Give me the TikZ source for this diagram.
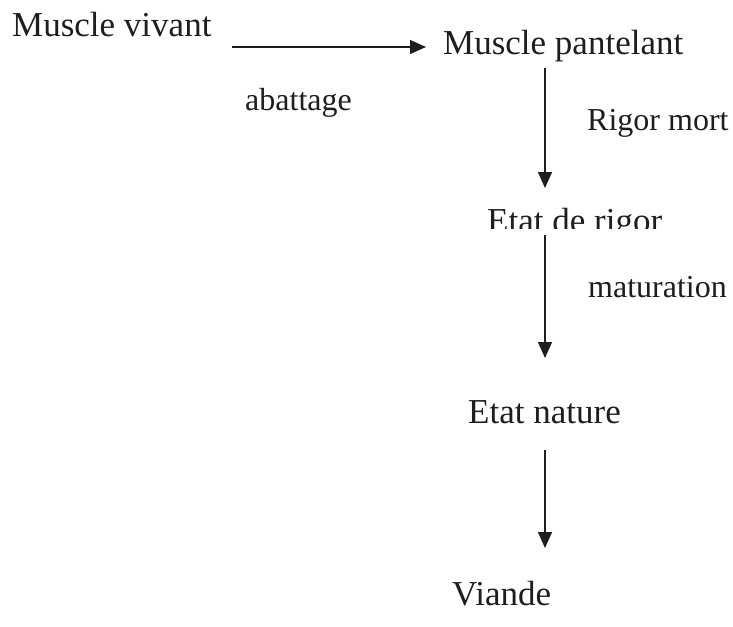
\documentclass[tikz,border=0pt]{standalone}
\usepackage{fontspec}
\setmainfont{Liberation Serif}
\usepackage{tikz}
\usetikzlibrary{arrows.meta,positioning,calc}
\definecolor{ink}{HTML}{1E1E1E}
\tikzset{term/.style={anchor=base west,inner sep=0pt,text=ink,font=\fontsize{35}{40}\selectfont},lbl/.style={term,font=\fontsize{32}{38}\selectfont},arr/.style={-{Triangle[length=16pt,width=14pt]},line width=1.4pt,draw=ink}}
\begin{document}
\begin{tikzpicture}[x=1pt,y=-1pt]
\useasboundingbox (0,0) rectangle (733,626);
\node[term] (vivant) at (12,37) {Muscle vivant};
\node[term] (pant) at (443,55) {Muscle pantelant};
% le bas du texte est coupé dans l'original
\begin{scope}
\clip (480,200) rectangle (670,228);
\node[term] (rigor) at (487,232) {Etat de rigor};
\end{scope}
\node[term] (nature) at (468,423) {Etat nature};
\node[term] (viande) at (452,605) {Viande};
\node[lbl] (abat) at (245,110) {abattage};
\node[lbl] (rmort) at (587,130) {Rigor mort};
\node[lbl] (matur) at (588,297) {maturation};
\coordinate (ax) at (545,0);
\draw[arr,shorten >=17pt] (232,47) coordinate (hstart) -- (pant.west |- hstart);
\draw[arr] ([yshift=-13pt]pant.base -| ax) -- ([yshift=44pt]rigor.base -| ax);
\draw[arr] ([yshift=-3pt]rigor.base -| ax) -- ([yshift=65pt]nature.base -| ax);
\draw[arr] ([yshift=-27pt]nature.base -| ax) -- ([yshift=57pt]viande.base -| ax);
\end{tikzpicture}
\end{document}
